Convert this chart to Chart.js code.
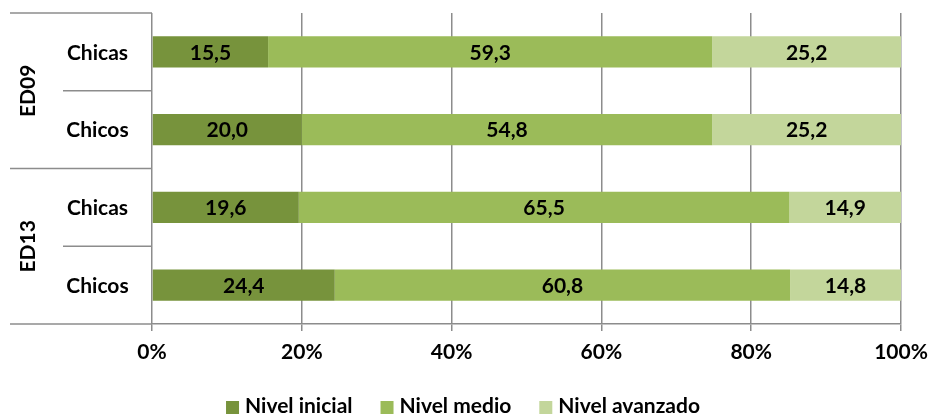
<!DOCTYPE html>
<html>
<head>
<meta charset="utf-8">
<script src="https://cdn.jsdelivr.net/npm/chart.js@4"></script>
<style>
  html, body { margin: 0; padding: 0; background: #ffffff; }
  canvas { display: block; }
</style>
</head>
<body>
<canvas id="chart" width="928" height="416" style="width:928px;height:416px"></canvas>
<script>
const categories = ["Chicas", "Chicos", "Chicas", "Chicos"];
const groups = ["ED09", "ED13"];
const seriesNames = ["Nivel inicial", "Nivel medio", "Nivel avanzado"];
const inicial = [15.5, 20.0, 19.6, 24.4];
const medio = [59.3, 54.8, 65.5, 60.8];
const avanzado = [25.2, 25.2, 14.9, 14.8];
const xTicks = [0, 20, 40, 60, 80, 100];

const colors = ["#77933C", "#9BBB59", "#C3D69B"];
const FONT = "Lato";
const SIZE = 21;
const lineColor = "#8c8c8c";

// etiquetas de valores, ejes de categorias y leyenda
const extras = {
    id: "extras",
    afterDatasetsDraw(chart) {
        const ctx = chart.ctx;
        ctx.save();
        ctx.fillStyle = "#000";
        ctx.font = "bold " + SIZE + "px " + FONT;
        ctx.textAlign = "center";
        ctx.textBaseline = "middle";
        chart.data.datasets.forEach((ds, i) => {
            chart.getDatasetMeta(i).data.forEach((bar, j) => {
                const x = (bar.x + bar.base) / 2;
                ctx.fillText(ds.data[j].toFixed(1).replace(".", ","), x, bar.y + 1);
            });
        });
        ctx.restore();
    },
    afterDraw(chart) {
        const ctx = chart.ctx;
        const area = chart.chartArea;
        const y = chart.scales.y;
        ctx.save();

        // separadores a la izquierda
        ctx.strokeStyle = lineColor;
        ctx.lineWidth = 1.5;
        const edges = [area.top];
        for (let i = 0; i < categories.length - 1; i++) {
            edges.push((y.getPixelForValue(i) + y.getPixelForValue(i + 1)) / 2);
        }
        edges.push(area.bottom);
        edges.forEach((e, k) => {
            const x0 = (k % 2 === 0) ? 10 : 63;
            ctx.beginPath();
            ctx.moveTo(x0, e);
            ctx.lineTo(area.left, e);
            ctx.stroke();
        });

        // nombres de categoria
        ctx.fillStyle = "#000";
        ctx.font = "bold " + SIZE + "px " + FONT;
        ctx.textAlign = "center";
        ctx.textBaseline = "middle";
        categories.forEach((c, i) => {
            ctx.fillText(c, 97.5, y.getPixelForValue(i) + 1);
        });

        // grupos (texto vertical)
        groups.forEach((g, k) => {
            const cy = edges[k * 2 + 1];
            ctx.save();
            ctx.translate(28, cy);
            ctx.rotate(-Math.PI / 2);
            ctx.fillText(g, 0, 0);
            ctx.restore();
        });

        // leyenda
        ctx.textAlign = "left";
        ctx.textBaseline = "alphabetic";
        const box = 13, gap = 6, space = 28;
        const widths = seriesNames.map(n => ctx.measureText(n).width);
        let total = 0;
        widths.forEach(w => total += box + gap + w);
        total += space * (seriesNames.length - 1);
        let lx = (chart.width - total) / 2 - 1;
        seriesNames.forEach((n, i) => {
            ctx.fillStyle = colors[i];
            ctx.fillRect(lx, 401, box, box);
            ctx.fillStyle = "#000";
            ctx.fillText(n, lx + box + gap, 413);
            lx += box + gap + widths[i] + space;
        });

        ctx.restore();
    }
};

new Chart(document.getElementById("chart"), {
    type: "bar",
    data: {
        labels: categories,
        datasets: [
            { label: seriesNames[0], data: inicial, backgroundColor: colors[0] },
            { label: seriesNames[1], data: medio, backgroundColor: colors[1] },
            { label: seriesNames[2], data: avanzado, backgroundColor: colors[2] }
        ]
    },
    options: {
        indexAxis: "y",
        responsive: false,
        animation: false,
        devicePixelRatio: 1,
        layout: {
            padding: { left: 152, right: 27, top: 13, bottom: 0 }
        },
        datasets: {
            bar: { barPercentage: 0.4, categoryPercentage: 1 }
        },
        scales: {
            x: {
                stacked: true,
                min: 0,
                max: 100,
                afterBuildTicks: (scale) => {
                    scale.ticks = xTicks.map(v => ({ value: v }));
                },
                afterFit: (scale) => {
                    scale.height = 92;
                    scale.paddingLeft = 0;
                    scale.paddingRight = 0;
                },
                ticks: {
                    color: "#000",
                    padding: 9,
                    font: { family: FONT, size: SIZE, weight: "bold" },
                    callback: (v) => v + "%"
                },
                grid: {
                    color: lineColor,
                    lineWidth: 1.5,
                    tickLength: 7
                },
                border: { color: lineColor, width: 1.5 }
            },
            y: {
                stacked: true,
                display: false
            }
        },
        plugins: {
            legend: { display: false },
            tooltip: { enabled: false }
        }
    },
    plugins: [extras]
});
</script>
</body>
</html>
